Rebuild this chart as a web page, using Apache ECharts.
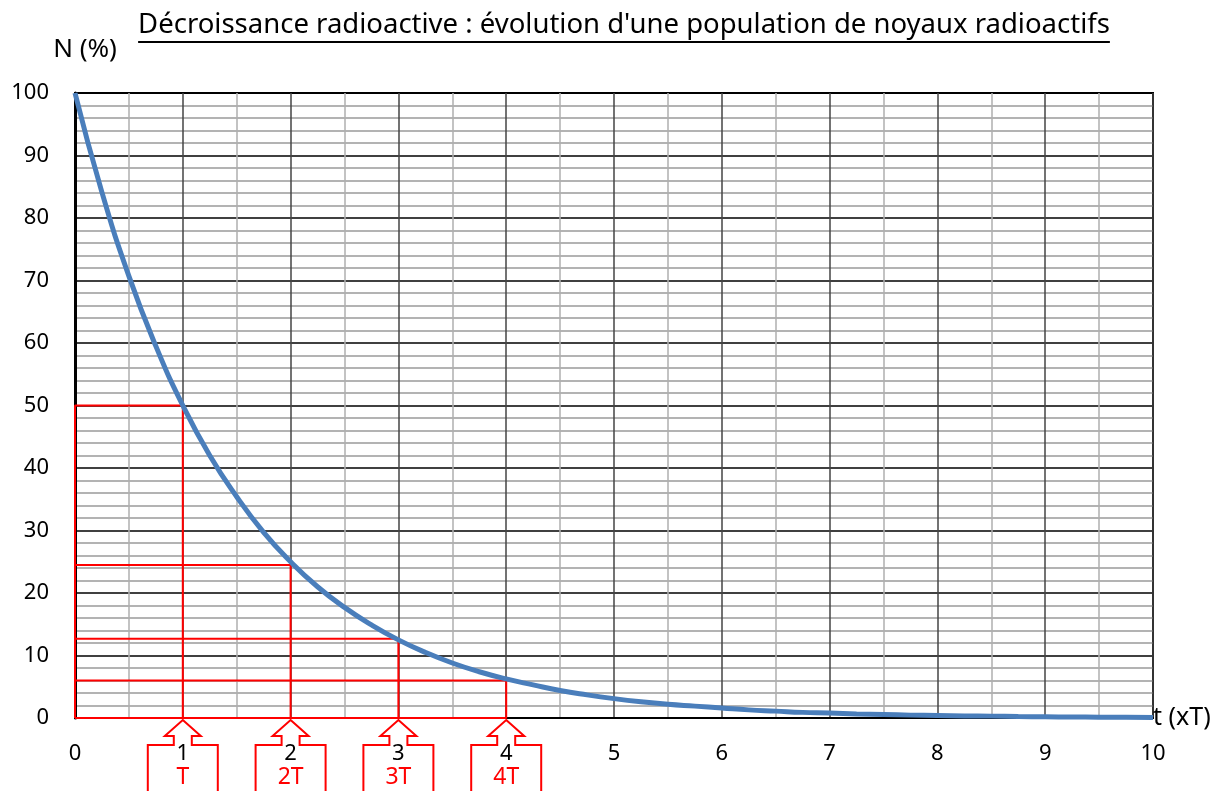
<!DOCTYPE html>
<html>
<head>
<meta charset="utf-8">
<script src="https://cdn.jsdelivr.net/npm/echarts@6/dist/echarts.min.js"></script>
<style>
html, body { margin: 0; background: #fff; }
#chart { width: 1219px; height: 791px; }
</style>
</head>
<body>
<div id="chart"></div>
<script>
// texts
const titleText = "Décroissance radioactive : évolution d'une population de noyaux radioactifs";
const yName = "N (%)";
const xName = "t (xT)";

// curve (t in half-lives, N in %)
const tValues = [0, 0.25, 0.5, 0.75, 1, 1.25, 1.5, 1.75, 2, 2.25, 2.5, 2.75, 3, 3.25, 3.5, 3.75, 4, 4.25, 4.5, 4.75,
    5, 5.25, 5.5, 5.75, 6, 6.25, 6.5, 6.75, 7, 7.25, 7.5, 7.75, 8, 8.25, 8.5, 8.75, 9, 9.25, 9.5, 9.75, 10];
const nValues = [100, 84.1, 70.7, 59.5, 50, 42, 35.4, 29.7, 25, 21, 17.7, 14.9, 12.5, 10.5, 8.8, 7.4, 6.25, 5.3, 4.4, 3.7,
    3.1, 2.6, 2.2, 1.9, 1.6, 1.3, 1.1, 0.9, 0.8, 0.65, 0.55, 0.46, 0.4, 0.33, 0.3, 0.23, 0.2, 0.16, 0.14, 0.12, 0.1];

// red construction boxes
const halfLives = [1, 2, 3, 4];
const halfLevels = [50, 24.5, 12.7, 6];
const arrowLabels = ["T", "2T", "3T", "4T"];

const FONT = '"Noto Sans", "DejaVu Sans", sans-serif';
const titleSize = 27.5;

let chart = echarts.init(document.getElementById("chart"));

let curveData = tValues.map((t, i) => [t, nValues[i]]);

let boxSeries = halfLives.map((k, i) => ({
    type: "line",
    data: [[0, 0], [0, halfLevels[i]], [k, halfLevels[i]], [k, 0], [0, 0]],
    showSymbol: false,
    clip: false,
    silent: true,
    z: 3,
    lineStyle: { color: "#ff0000", width: 2 }
}));

let option = {
    animation: false,
    backgroundColor: "#fff",
    textStyle: { fontFamily: FONT },
    graphic: [{
        type: "text",
        id: "title",
        x: 624, y: 25,
        style: {
            text: titleText,
            font: titleSize + "px " + FONT,
            fill: "#000",
            align: "center",
            verticalAlign: "middle"
        }
    }],
    grid: {
        left: 75, right: 66, top: 93, bottom: 73,
        show: true,
        borderColor: "#000",
        borderWidth: 2,
        backgroundColor: "transparent"
    },
    xAxis: {
        type: "value",
        min: 0, max: 10, interval: 1,
        name: xName,
        nameLocation: "end",
        nameGap: 0,
        nameTextStyle: { fontSize: 25, color: "#000", fontFamily: FONT, align: "left", verticalAlign: "middle", padding: [0, 0, 10, 0] },
        axisLine: { lineStyle: { color: "#000", width: 2 } },
        axisTick: { show: false },
        axisLabel: { fontSize: 22, color: "#000", margin: 25, fontFamily: FONT },
        splitLine: { show: true, lineStyle: { color: "#444", width: 1.5 } },
        minorTick: { show: false, splitNumber: 2 },
        minorSplitLine: { show: true, lineStyle: { color: "#b0b0b0", width: 1.5 } }
    },
    yAxis: {
        type: "value",
        min: 0, max: 100, interval: 10,
        name: yName,
        nameLocation: "end",
        nameGap: 30,
        nameTextStyle: { fontSize: 26, color: "#000", fontFamily: FONT, align: "center", padding: [0, 0, 0, 20] },
        axisLine: { show: true, lineStyle: { color: "#000", width: 3 } },
        axisTick: { show: false },
        axisLabel: { fontSize: 22, color: "#000", margin: 26, fontFamily: FONT },
        splitLine: { show: true, lineStyle: { color: "#000", width: 1.5 } },
        minorTick: { show: false, splitNumber: 5 },
        minorSplitLine: { show: true, lineStyle: { color: "#9a9a9a", width: 1.5 } }
    },
    series: [
        ...boxSeries,
        {
            type: "line",
            data: curveData,
            smooth: true,
            showSymbol: false,
            clip: false,
            z: 4,
            lineStyle: { color: "#4a7ebb", width: 5 }
        },
        {
            type: "custom",
            clip: false,
            z: 5,
            data: halfLives.map(k => [k, 0]),
            renderItem: (params, api) => {
                let p = api.coord([api.value(0), api.value(1)]);
                let x = p[0], y = p[1] + 2;
                let pts = [
                    [x, y],
                    [x + 18, y + 16],
                    [x + 9, y + 16],
                    [x + 9, y + 25],
                    [x + 35, y + 25],
                    [x + 35, y + 90],
                    [x - 35, y + 90],
                    [x - 35, y + 25],
                    [x - 9, y + 25],
                    [x - 9, y + 16],
                    [x - 18, y + 16]
                ];
                return {
                    type: "group",
                    children: [
                        {
                            type: "polygon",
                            shape: { points: pts },
                            style: { fill: "none", stroke: "#ff0000", lineWidth: 2 }
                        },
                        {
                            type: "text",
                            style: {
                                text: arrowLabels[params.dataIndex],
                                x: x, y: y + 57,
                                fill: "#ff0000",
                                font: "23px " + FONT,
                                align: "center",
                                verticalAlign: "middle"
                            }
                        }
                    ]
                };
            }
        }
    ]
};

chart.setOption(option);

// underline the title, using its drawn width
let titleEl = chart.getZr().storage.getDisplayList().find(el => el.style && el.style.text === titleText);
let w = titleEl ? titleEl.getBoundingRect().width : 978;
chart.setOption({
    graphic: [{
        type: "line",
        id: "underline",
        shape: { x1: 624 - w / 2, y1: 42, x2: 624 + w / 2, y2: 42 },
        style: { stroke: "#000", lineWidth: 2 }
    }]
});
</script>
</body>
</html>
